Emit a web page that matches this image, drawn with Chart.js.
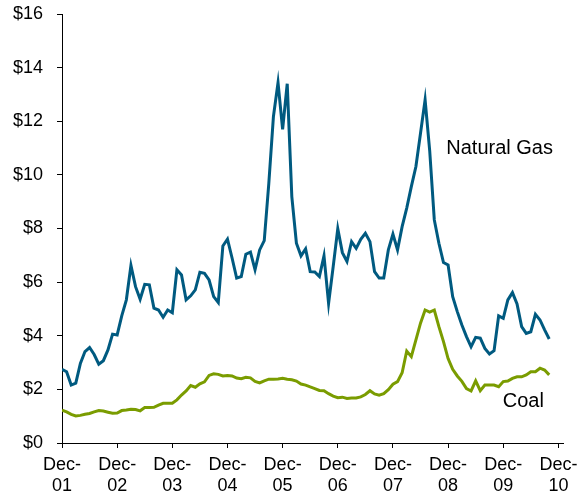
<!DOCTYPE html>
<html>
<head>
<meta charset="utf-8">
<script src="https://cdn.jsdelivr.net/npm/chart.js@4.4.1/dist/chart.umd.min.js"></script>
<style>
  html, body { margin: 0; padding: 0; background: #fff; }
  #priceChart { display: block; }
</style>
</head>
<body>
<canvas id="priceChart" width="578" height="495"></canvas>
<script>
// monthly prices in $, first value is Dec-01
const gasPrices = [
  2.75, 2.66, 2.16, 2.23, 2.97, 3.41, 3.56, 3.30, 2.94, 3.07, 3.47, 4.06,
  4.03, 4.74, 5.34, 6.62, 5.83, 5.36, 5.92, 5.90, 5.03, 4.96, 4.69, 4.96,
  4.86, 6.46, 6.27, 5.34, 5.49, 5.71, 6.37, 6.33, 6.08, 5.46, 5.24, 7.35,
  7.60, 6.90, 6.15, 6.21, 7.04, 7.12, 6.46, 7.20, 7.55, 9.69, 12.18, 13.44,
  11.70, 13.40, 9.19, 7.45, 6.98, 7.24, 6.39, 6.38, 6.21, 6.98, 5.21, 6.58,
  7.99, 7.10, 6.77, 7.51, 7.26, 7.60, 7.82, 7.51, 6.39, 6.15, 6.15, 7.20,
  7.79, 7.20, 8.07, 8.76, 9.56, 10.31, 11.55, 12.80, 10.90, 8.32, 7.45, 6.73,
  6.64, 5.46, 4.90, 4.40, 3.97, 3.59, 3.94, 3.91, 3.53, 3.32, 3.44, 4.74,
  4.65, 5.34, 5.61, 5.19, 4.34, 4.09, 4.15, 4.80, 4.59, 4.22, 3.88
];
const coalPrices = [
  1.23, 1.16, 1.07, 1.01, 1.03, 1.07, 1.10, 1.16, 1.21, 1.19, 1.15, 1.11,
  1.12, 1.21, 1.23, 1.26, 1.25, 1.20, 1.32, 1.32, 1.33, 1.41, 1.48, 1.48,
  1.48, 1.61, 1.79, 1.94, 2.14, 2.08, 2.21, 2.28, 2.52, 2.58, 2.56, 2.50,
  2.52, 2.50, 2.42, 2.40, 2.45, 2.43, 2.30, 2.24, 2.32, 2.38, 2.38, 2.39,
  2.41, 2.38, 2.36, 2.31, 2.20, 2.16, 2.09, 2.03, 1.96, 1.95, 1.84, 1.75,
  1.69, 1.71, 1.66, 1.68, 1.68, 1.72, 1.81, 1.95, 1.83, 1.78, 1.84, 1.99,
  2.19, 2.29, 2.62, 3.43, 3.22, 3.85, 4.47, 4.96, 4.88, 4.96, 4.34, 3.78,
  3.15, 2.75, 2.50, 2.30, 2.03, 1.94, 2.32, 1.95, 2.16, 2.16, 2.16, 2.10,
  2.29, 2.31, 2.41, 2.47, 2.47, 2.54, 2.66, 2.66, 2.79, 2.72, 2.54
];
const yearLabels = [
  "Dec-01", "Dec-02", "Dec-03", "Dec-04", "Dec-05",
  "Dec-06", "Dec-07", "Dec-08", "Dec-09", "Dec-10"
];

const FONT = "'Liberation Sans', Arial, sans-serif";
const GAS_COLOR = "#005A80";
const COAL_COLOR = "#7A9C00";

// series names written next to the lines, placed in axis units
const seriesNotes = [
  { text: "Natural Gas", month: 83.6, price: 10.78 },
  { text: "Coal", month: 95.9, price: 1.35 }
];

const toPoints = (values) => values.map((v, i) => ({ x: i, y: v }));

const notesPlugin = {
  id: "notesPlugin",
  afterDatasetsDraw(chart) {
    const { ctx } = chart;
    const xs = chart.scales.x;
    const ys = chart.scales.y;
    ctx.save();
    ctx.font = "20px " + FONT;
    ctx.fillStyle = "#000";
    ctx.textAlign = "left";
    ctx.textBaseline = "alphabetic";
    seriesNotes.forEach((n) => {
      ctx.fillText(n.text, xs.getPixelForValue(n.month), ys.getPixelForValue(n.price));
    });
    ctx.restore();
  },
};

const ctx = document.getElementById("priceChart").getContext("2d");
const priceChart = new Chart(ctx, {
  type: "line",
  data: {
    datasets: [
      {
        label: "Natural Gas",
        data: toPoints(gasPrices),
        borderColor: GAS_COLOR,
        borderWidth: 3,
        pointRadius: 0,
        tension: 0,
        fill: false,
      },
      {
        label: "Coal",
        data: toPoints(coalPrices),
        borderColor: COAL_COLOR,
        borderWidth: 3,
        pointRadius: 0,
        tension: 0,
        fill: false,
      },
    ],
  },
  options: {
    responsive: false,
    animation: false,
    layout: { padding: { top: 14, right: 15, left: 0, bottom: 0 } },
    plugins: {
      legend: { display: false },
      tooltip: { enabled: false },
    },
    scales: {
      x: {
        type: "linear",
        min: 0,
        max: 109,
        // fixed axis band; label overflow is covered by the layout padding
        afterFit: (scale) => {
          scale.height = 52;
          scale.paddingLeft = 0;
          scale.paddingRight = 0;
        },
        border: { color: "#000", width: 1 },
        grid: {
          drawOnChartArea: false,
          drawTicks: true,
          tickLength: 5,
          color: "#000",
        },
        ticks: {
          stepSize: 12,
          includeBounds: false,
          autoSkip: false,
          maxRotation: 0,
          padding: 6,
          color: "#000",
          font: { family: FONT, size: 18, lineHeight: 1.2 },
          callback: (value) => {
            const label = yearLabels[value / 12];
            if (!label) return "";
            const parts = label.split("-");
            return [parts[0] + "-", parts[1]];
          },
        },
      },
      y: {
        min: 0,
        max: 16,
        afterFit: (scale) => {
          scale.width = 62;
          scale.paddingTop = 0;
          scale.paddingBottom = 0;
        },
        border: { color: "#000", width: 1 },
        grid: {
          drawOnChartArea: false,
          drawTicks: true,
          tickLength: 5,
          color: "#000",
        },
        ticks: {
          stepSize: 2,
          padding: 14,
          color: "#000",
          font: { family: FONT, size: 18 },
          callback: (value) => "$" + value,
        },
      },
    },
  },
  plugins: [notesPlugin],
});
</script>
</body>
</html>
